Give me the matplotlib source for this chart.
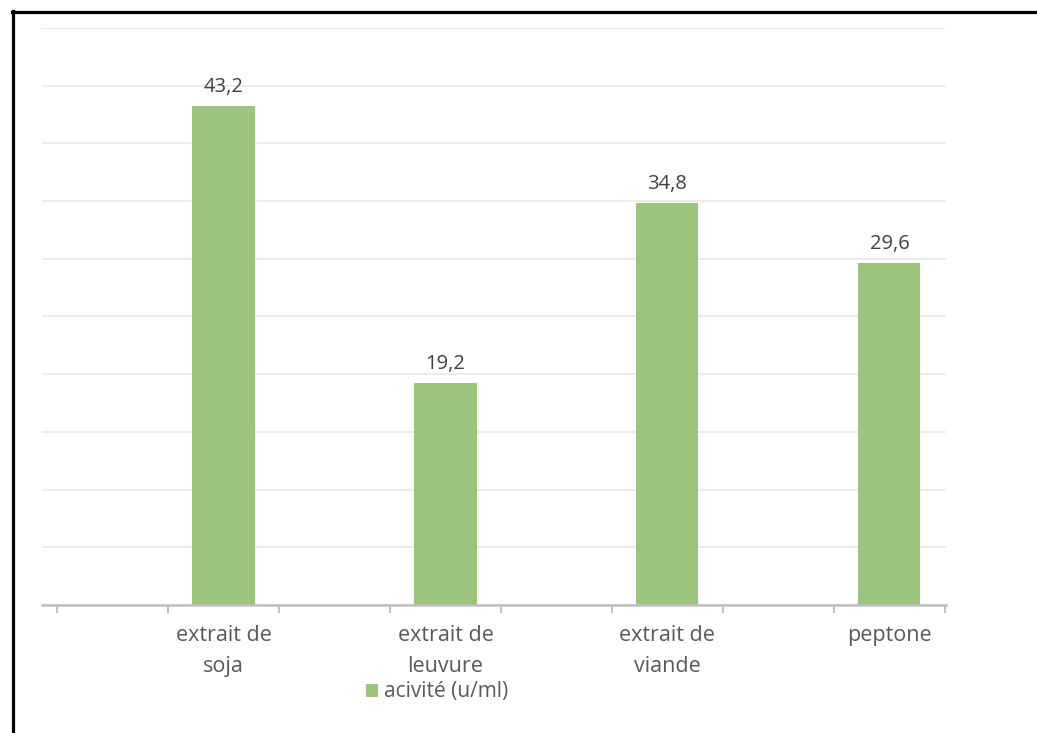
import matplotlib
matplotlib.use("Agg")
import matplotlib.pyplot as plt
from matplotlib.lines import Line2D
from matplotlib.patches import Patch
from matplotlib.ticker import FixedLocator

categories = ["extrait de\nsoja", "extrait de\nleuvure", "extrait de\nviande", "peptone"]
values = [43.2, 19.2, 34.8, 29.6]
series_name = "acivité (u/ml)"

bar_color = "#9BC47D"
text_color = "#595959"
grid_color = "#EBEBEB"
axis_color = "#BFBFBF"

plt.rcParams["font.family"] = ["Open Sans", "DejaVu Sans"]

W, H = 1037, 733
fig = plt.figure(figsize=(W / 100, H / 100), dpi=100)
ax = fig.add_axes([42 / W, 1 - 605 / H, (946 - 42) / W, (605 - 28) / H])

# 8 slots; bars occupy every second slot
xpos = [2 * i + 1 for i in range(len(categories))]
ax.bar(xpos, values, width=0.56, color=bar_color, zorder=3)
for x, v in zip(xpos, values):
    ax.annotate(f"{v:.1f}".replace(".", ","), (x, v), xytext=(0, 7),
                textcoords="offset points", ha="center", va="bottom",
                fontsize=14.5, color="#404040")

ax.set_xlim(-0.635, 7.51)
ax.set_ylim(0, 50)
ax.set_yticks(range(0, 51, 5))
ax.yaxis.grid(True, color=grid_color, linewidth=1.3, zorder=0)
ax.tick_params(axis="y", left=False, labelleft=False)

ax.set_xticks(xpos)
ax.set_xticklabels(categories, fontsize=15.5, color=text_color, linespacing=1.6)
ax.tick_params(axis="x", which="major", length=0, pad=14.5)
ax.xaxis.set_minor_locator(FixedLocator([k - 0.5 for k in range(9)]))
ax.tick_params(axis="x", which="minor", length=6, width=1.4, color=axis_color)

for s in ["top", "right", "left"]:
    ax.spines[s].set_visible(False)
ax.spines["bottom"].set_color(axis_color)
ax.spines["bottom"].set_linewidth(1.8)
ax.spines["bottom"].set_zorder(4)

handle = Patch(facecolor=bar_color, edgecolor="none")
fig.legend([handle], [series_name], loc="center", bbox_to_anchor=(437 / W, 1 - 692 / H),
           frameon=False, fontsize=15, labelcolor=text_color,
           handlelength=0.6, handleheight=0.6, handletextpad=0.3, borderpad=0)

# outer black frame (top and left edges visible)
fig.add_artist(Line2D([12 / W, 1], [1 - 11.5 / H, 1 - 11.5 / H], transform=fig.transFigure,
                      color="black", linewidth=2.3))
fig.add_artist(Line2D([12.5 / W, 12.5 / W], [0, 1 - 10.5 / H], transform=fig.transFigure,
                      color="black", linewidth=2.3))

fig.savefig("out.png", dpi=100)
